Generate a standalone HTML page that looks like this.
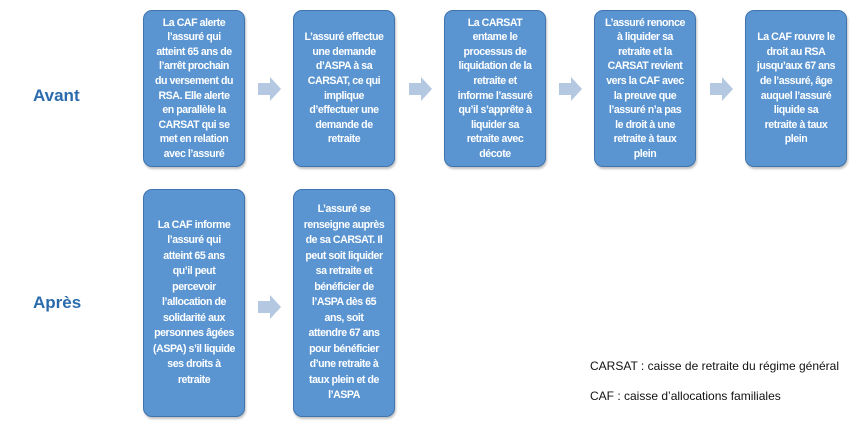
<!DOCTYPE html>
<html><head><meta charset="utf-8"><style>
body{margin:0;width:859px;height:432px;background:#fff;position:relative;overflow:hidden;font-family:"Liberation Sans",sans-serif}
.b{position:absolute;width:102px;background:#5a95d2;border:1.5px solid #3f74ad;border-radius:9px;color:#fff;font-weight:bold;font-size:10.6px;line-height:14.6px;text-align:center;display:flex;align-items:center;justify-content:center;box-sizing:border-box;padding:0;letter-spacing:-0.45px;white-space:nowrap;box-shadow:1px 2px 2px rgba(0,0,0,0.25)}
.b.tall{line-height:15.5px}
.lab{position:absolute;color:#2a6bad;font-weight:bold;font-size:17px}
.ar{position:absolute;width:24px;height:24px}
.t{position:absolute;font-size:12px;color:#111}
</style></head><body>
<div class="lab" style="left:33px;top:86px">Avant</div>
<div class="lab" style="left:33px;top:293px">Après</div>
<div class="b" style="left:143px;top:10px;height:157px"><div>La CAF alerte<br>l’assuré qui<br>atteint 65 ans de<br>l’arrêt prochain<br>du versement du<br>RSA. Elle alerte<br>en parallèle la<br>CARSAT qui se<br>met en relation<br>avec l’assuré</div></div>
<div class="b" style="left:293px;top:10px;height:157px"><div>L’assuré effectue<br>une demande<br>d’ASPA à sa<br>CARSAT, ce qui<br>implique<br>d’effectuer une<br>demande de<br>retraite</div></div>
<div class="b" style="left:444px;top:10px;height:157px"><div>La CARSAT<br>entame le<br>processus de<br>liquidation de la<br>retraite et<br>informe l’assuré<br>qu’il s’apprête à<br>liquider sa<br>retraite avec<br>décote</div></div>
<div class="b" style="left:594px;top:10px;height:157px"><div>L’assuré renonce<br>à liquider sa<br>retraite et la<br>CARSAT revient<br>vers la CAF avec<br>la preuve que<br>l’assuré n’a pas<br>le droit à une<br>retraite à taux<br>plein</div></div>
<div class="b" style="left:745px;top:10px;height:157px"><div>La CAF rouvre le<br>droit au RSA<br>jusqu’aux 67 ans<br>de l’assuré, âge<br>auquel l’assuré<br>liquide sa<br>retraite à taux<br>plein</div></div>
<div class="b tall" style="left:143px;top:189px;height:228px"><div>La CAF informe<br>l’assuré qui<br>atteint 65 ans<br>qu’il peut<br>percevoir<br>l’allocation de<br>solidarité aux<br>personnes âgées<br>(ASPA) s’il liquide<br>ses droits à<br>retraite</div></div>
<div class="b tall" style="left:293px;top:189px;height:228px"><div>L’assuré se<br>renseigne auprès<br>de sa CARSAT. Il<br>peut soit liquider<br>sa retraite et<br>bénéficier de<br>l’ASPA dès 65<br>ans, soit<br>attendre 67 ans<br>pour bénéficier<br>d’une retraite à<br>taux plein et de<br>l’ASPA</div></div>
<svg class="ar" style="left:258px;top:77px" viewBox="0 0 24 24"><polygon points="0,6 12,6 12,0 23,12 12,24 12,18 0,18" fill="#b4c8e2"/></svg>
<svg class="ar" style="left:409px;top:77px" viewBox="0 0 24 24"><polygon points="0,6 12,6 12,0 23,12 12,24 12,18 0,18" fill="#b4c8e2"/></svg>
<svg class="ar" style="left:559px;top:77px" viewBox="0 0 24 24"><polygon points="0,6 12,6 12,0 23,12 12,24 12,18 0,18" fill="#b4c8e2"/></svg>
<svg class="ar" style="left:710px;top:77px" viewBox="0 0 24 24"><polygon points="0,6 12,6 12,0 23,12 12,24 12,18 0,18" fill="#b4c8e2"/></svg>
<svg class="ar" style="left:258px;top:295px" viewBox="0 0 24 24"><polygon points="0,6 12,6 12,0 23,12 12,24 12,18 0,18" fill="#b4c8e2"/></svg>
<div class="t" style="left:590px;top:359px">CARSAT : caisse de retraite du régime général</div>
<div class="t" style="left:590px;top:389px">CAF : caisse d’allocations familiales</div>
</body></html>
